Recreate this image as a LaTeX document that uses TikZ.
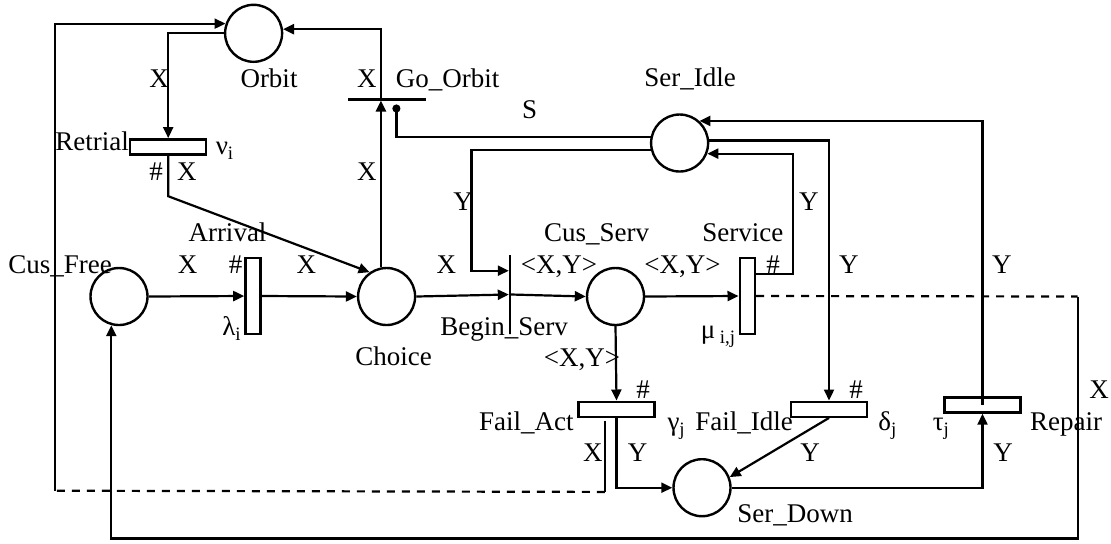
\documentclass[tikz,border=0pt]{standalone}
\usepackage{fontspec}
\setmainfont{Liberation Serif}
\usetikzlibrary{arrows.meta, calc}

\tikzset{
  place/.style={draw, circle, line width=1.2pt, minimum size=28.5pt, inner sep=0pt},
  htrans/.style={draw, rectangle, line width=1.2pt, inner sep=0pt, minimum width=38pt, minimum height=7.5pt},
  vtrans/.style={draw, rectangle, line width=1.2pt, inner sep=0pt, minimum width=7.6pt, minimum height=38pt},
  bar/.style={draw, line width=1.2pt, inner sep=0pt},
  line/.style={line width=1.1pt},
  arc/.style={line width=1.1pt, -{Triangle[length=5.5pt,width=5pt]}},
  lbl/.style={inner sep=0pt, text height=8.9pt, text depth=0pt, font=\fontsize{13.5}{15}\selectfont},
}

\begin{document}
\begin{tikzpicture}[x=0.5pt, y=-0.5pt]
  \useasboundingbox (0,0) rectangle (1111,543);
  % places
  \node[place] (orbit) at (253.6,33.3) {};
  \node[place] (cusfree) at (119,296.5) {};
  \node[place] (choice) at (386.6,296.5) {};
  \node[place] (cusserv) at (615.5,296.5) {};
  \node[place] (seridle) at (679.6,143) {};
  \node[place] (serdown) at (702,487.7) {};
  % transitions
  \node[htrans] (retrial) at (168.2,146.8) {};
  \node[vtrans] (arrival) at (253,296) {};
  \node[vtrans] (service) at (747.3,296) {};
  \node[htrans] (failact) at (616.5,409.2) {};
  \node[htrans] (failidle) at (829,409.2) {};
  \node[htrans] (repair) at (982.5,405) {};
  \node[bar, minimum width=0pt, minimum height=39.5pt] (beginserv) at (510,294.5) {};
  \node[bar, minimum width=38.9pt, minimum height=0pt] (goorbit) at (386.9,99.3) {};

  % customer flow
  \draw[arc] (cusfree.east) -- (arrival.west);
  \draw[arc] (arrival.east) -- (choice.west);
  \draw[arc] (choice.east) -- (beginserv.west);
  \draw[arc] (beginserv.east) -- (cusserv.west);
  \draw[arc] (cusserv.east) -- (service.west);
  \draw[arc] (cusserv.south) -- (failact.north);

  % orbit loop
  \draw[arc] (orbit.west) -| (retrial.north);
  \draw[arc] (retrial.south) -- ++(0,40.7) -- (choice.125);
  \draw[arc] (choice.101) -- (choice.101 |- goorbit.south);
  \draw[arc] (choice.101 |- goorbit.north) |- (orbit.8);
  \draw[line, -{Circle[length=4pt]}] (seridle.168) -| ($(goorbit.south)+(9.5,4)$);

  % server
  \coordinate (ybend) at (471.4,270.7);
  \draw[arc] (seridle.193) -| (ybend) -- (ybend -| beginserv.west);
  \draw[arc] ($(service.east)+(0,-21.7)$) -- ++(37,0) |- (seridle.-21);
  \draw[arc] (seridle.5) -| (failidle.north);
  \draw[arc] (repair.center) |- (seridle.48);
  \draw[arc] (serdown.east) -| (repair.south);
  \draw[arc] (failact.south) |- (serdown.west);
  \draw[arc] (failidle.south) -- (serdown.21);

  % dashed returns
  \coordinate (xdn) at ($(failact.south)+(-11.7,74)$);
  \coordinate (xbend) at (54.6,490.7);
  \draw[line] ($(failact.south)+(-11.7,3)$) -- (xdn);
  \draw[line, dash pattern=on 4pt off 3.5pt] (xdn) -- (xbend);
  \draw[arc] (xbend) |- (orbit.161);
  \coordinate (rbend) at (1077.7,296.5);
  \coordinate (rdown) at (1077.7,538.5);
  \draw[line, dash pattern=on 4pt off 3.5pt] (service.east) -- (rbend);
  \draw[arc] (rbend) -- (rdown) -| (cusfree.255);

  % labels
  \node[lbl] (lorbit) at (269,79) {Orbit};
  \node[lbl] (lx1) at (159,79) {X};
  \node[lbl] (lx2) at (366.8,79) {X};
  \node[lbl] (lgoorbit) at (447.7,79) {Go\_Orbit};
  \node[lbl] (lseridle) at (690,78) {Ser\_Idle};
  \node[lbl] (ls) at (529.6,110) {S};
  \node[lbl] (lretrial) at (92,142) {Retrial};
  \node[lbl] (lnu) at (225,146) {ν\textsubscript{i}};
  \node[lbl] (lh1) at (156,172) {\#};
  \node[lbl] (lx3) at (186.8,172) {X};
  \node[lbl] (lx4) at (366.8,172) {X};
  \node[lbl] (ly1) at (463,201.7) {Y};
  \node[lbl] (ly2) at (808.8,202) {Y};
  \node[lbl] (larrival) at (227.5,233) {Arrival};
  \node[lbl] (lcusserv) at (596.7,233) {Cus\_Serv};
  \node[lbl] (lservice) at (742.8,233) {Service};
  \node[lbl] (lcusfree) at (60,265) {Cus\_Free};
  \node[lbl] (lx5) at (187.5,265) {X};
  \node[lbl] (lh2) at (235.7,265) {\#};
  \node[lbl] (lx6) at (306.4,265) {X};
  \node[lbl] (lx7) at (446.4,265) {X};
  \node[lbl] (lxy1) at (559,265) {<X,Y>};
  \node[lbl] (lxy2) at (682.4,265) {<X,Y>};
  \node[lbl] (lh3) at (773,265) {\#};
  \node[lbl] (ly3) at (848.8,265) {Y};
  \node[lbl] (ly4) at (1001.8,265) {Y};
  \node[lbl] (llambda) at (232,327) {λ\textsubscript{i}};
  \node[lbl] (lbeginserv) at (504,326.7) {Begin\_Serv};
  \node[lbl] (lmu) at (718.4,330) {μ\,\textsubscript{i,j}};
  \node[lbl] (lchoice) at (393.6,356.7) {Choice};
  \node[lbl] (lxy3) at (582,357.3) {<X,Y>};
  \node[lbl] (lx8) at (1099,390) {X};
  \node[lbl] (lh4) at (643,390) {\#};
  \node[lbl] (lh5) at (856,390) {\#};
  \node[lbl] (lfailact) at (526.4,422) {Fail\_Act};
  \node[lbl] (lgamma) at (676.6,422) {γ\textsubscript{j}};
  \node[lbl] (lfailidle) at (744,422) {Fail\_Idle};
  \node[lbl] (ldelta) at (887.8,422) {δ\textsubscript{j}};
  \node[lbl] (ltau) at (941.3,422) {τ\textsubscript{j}};
  \node[lbl] (lrepair) at (1066.2,422) {Repair};
  \node[lbl] (lx9) at (592.8,453) {X};
  \node[lbl] (ly5) at (637.6,453) {Y};
  \node[lbl] (ly6) at (810.2,453) {Y};
  \node[lbl] (ly7) at (1003.2,453) {Y};
  \node[lbl] (lserdown) at (795,513.3) {Ser\_Down};
\end{tikzpicture}
\end{document}
